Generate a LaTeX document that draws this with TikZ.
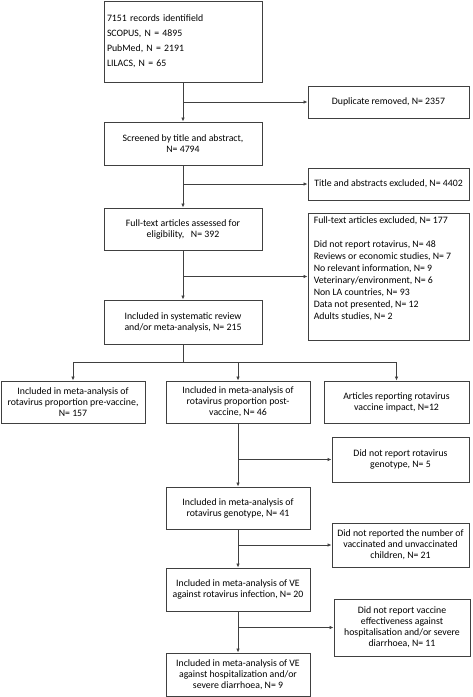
\documentclass[tikz,border=0pt]{standalone}
\usepackage{fontspec}
\setmainfont{Carlito}
\usetikzlibrary{arrows.meta}
\begin{document}
\begin{tikzpicture}[x=1pt,y=-1pt,
  box/.style={draw=black!75, line width=0.9pt, align=center, font=\fontsize{9.8}{11}\selectfont, inner sep=2pt},
  conn/.style={draw=black!75, line width=1pt},
  arr/.style={conn, -{Latex[length=4pt,width=3.5pt]}}]
\useasboundingbox (0,0) rectangle (472,697);
% main column
\node[box, align=left, text width=152pt, inner sep=3pt, minimum height=81pt, font=\fontsize{9.8}{15}\selectfont] (rec) at (183,41.5)
  {7151 records identifield\\SCOPUS, N = 4895\\PubMed, N = 2191\\LILACS, N = 65};
\node[box, minimum width=158pt, minimum height=43pt] (scr) at (183,143.5) {Screened by title and abstract,\\N= 4794};
\node[box, minimum width=158pt, minimum height=42pt] (ft) at (183,229) {Full-text articles assessed for\\eligibility,\ \ \ N= 392};
\node[box, minimum width=158pt, minimum height=44pt] (inc) at (183,322) {Included in systematic review\\and/or meta-analysis, N= 215};
% right column
\node[box, minimum width=161pt, minimum height=32pt] (dup) at (388.5,102) {Duplicate removed, N= 2357};
\node[box, minimum width=161pt, minimum height=32pt] (tae) at (388.5,184) {Title and abstracts excluded, N= 4402};
\node[box, minimum width=161pt, minimum height=127pt] (ex) at (388.5,276.5) {};
\node[align=left, anchor=north west, inner sep=0pt, font=\fontsize{9.8}{12}\selectfont] (ext) at ([xshift=6pt,yshift=-4pt]ex.north west)
  {Full-text articles excluded, N= 177\\[12pt]Did not report rotavirus, N= 48\\Reviews or economic studies, N= 7\\No relevant information, N= 9\\Veterinary/environment, N= 6\\Non LA countries, N= 93\\Data not presented, N= 12\\Adults studies, N= 2};
% three branches
\node[box, minimum width=144pt, minimum height=42pt] (pre) at (73,402) {Included in meta-analysis of\\rotavirus proportion pre-vaccine,\\N= 157};
\node[box, minimum width=144pt, minimum height=42pt] (post) at (238,402) {Included in meta-analysis of\\rotavirus proportion post-\\vaccine, N= 46};
\node[box, minimum width=145pt, minimum height=42pt] (imp) at (396.5,402) {Articles reporting rotavirus\\vaccine impact, N=12};
% lower column
\node[box, minimum width=144pt, minimum height=42pt] (gen) at (238,508) {Included in meta-analysis of\\rotavirus genotype, N= 41};
\node[box, minimum width=144pt, minimum height=43pt] (vei) at (238,589.5) {Included in meta-analysis of VE\\against rotavirus infection, N= 20};
\node[box, minimum width=144pt, minimum height=43pt] (veh) at (238,674.5) {Included in meta-analysis of VE\\against hospitalization and/or\\severe diarrhoea, N= 9};
\node[box, minimum width=137pt, minimum height=45pt] (gex) at (400.5,459.5) {Did not report rotavirus\\genotype, N= 5};
\node[box, minimum width=137pt, minimum height=44pt] (nrep) at (400.5,545) {Did not reported the number of\\vaccinated and unvaccinated\\children, N= 21};
\node[box, minimum width=136pt, minimum height=57pt] (veex) at (402,627.5) {Did not report vaccine\\effectiveness against\\hospitalisation and/or severe\\diarrhoea, N= 11};
% connectors
\draw[arr] (rec) -- (scr);
\draw[arr] (rec.south |- dup.west) -- (dup.west);
\draw[arr] (scr) -- (ft);
\draw[arr] (scr.south |- tae.west) -- (tae.west);
\draw[arr] (ft) -- (inc);
\draw[arr] (ft.south |- ex.west) -- (ex.west);
\coordinate (br) at (183,362);
\draw[conn] (inc.south) -- (br);
\draw[conn] (pre.north |- br) -- (imp.north |- br);
\draw[arr] (pre.north |- br) -- (pre.north);
\draw[arr] (post.north |- br) -- (post.north);
\draw[arr] (imp.north |- br) -- (imp.north);
\draw[arr] (post) -- (gen);
\draw[arr] (post.south |- gex.west) -- (gex.west);
\draw[arr] (gen) -- (vei);
\draw[arr] (gen.south |- nrep.west) -- (nrep.west);
\draw[arr] (vei) -- (veh);
\draw[arr] (vei.south |- veex.west) -- (veex.west);
\end{tikzpicture}
\end{document}
